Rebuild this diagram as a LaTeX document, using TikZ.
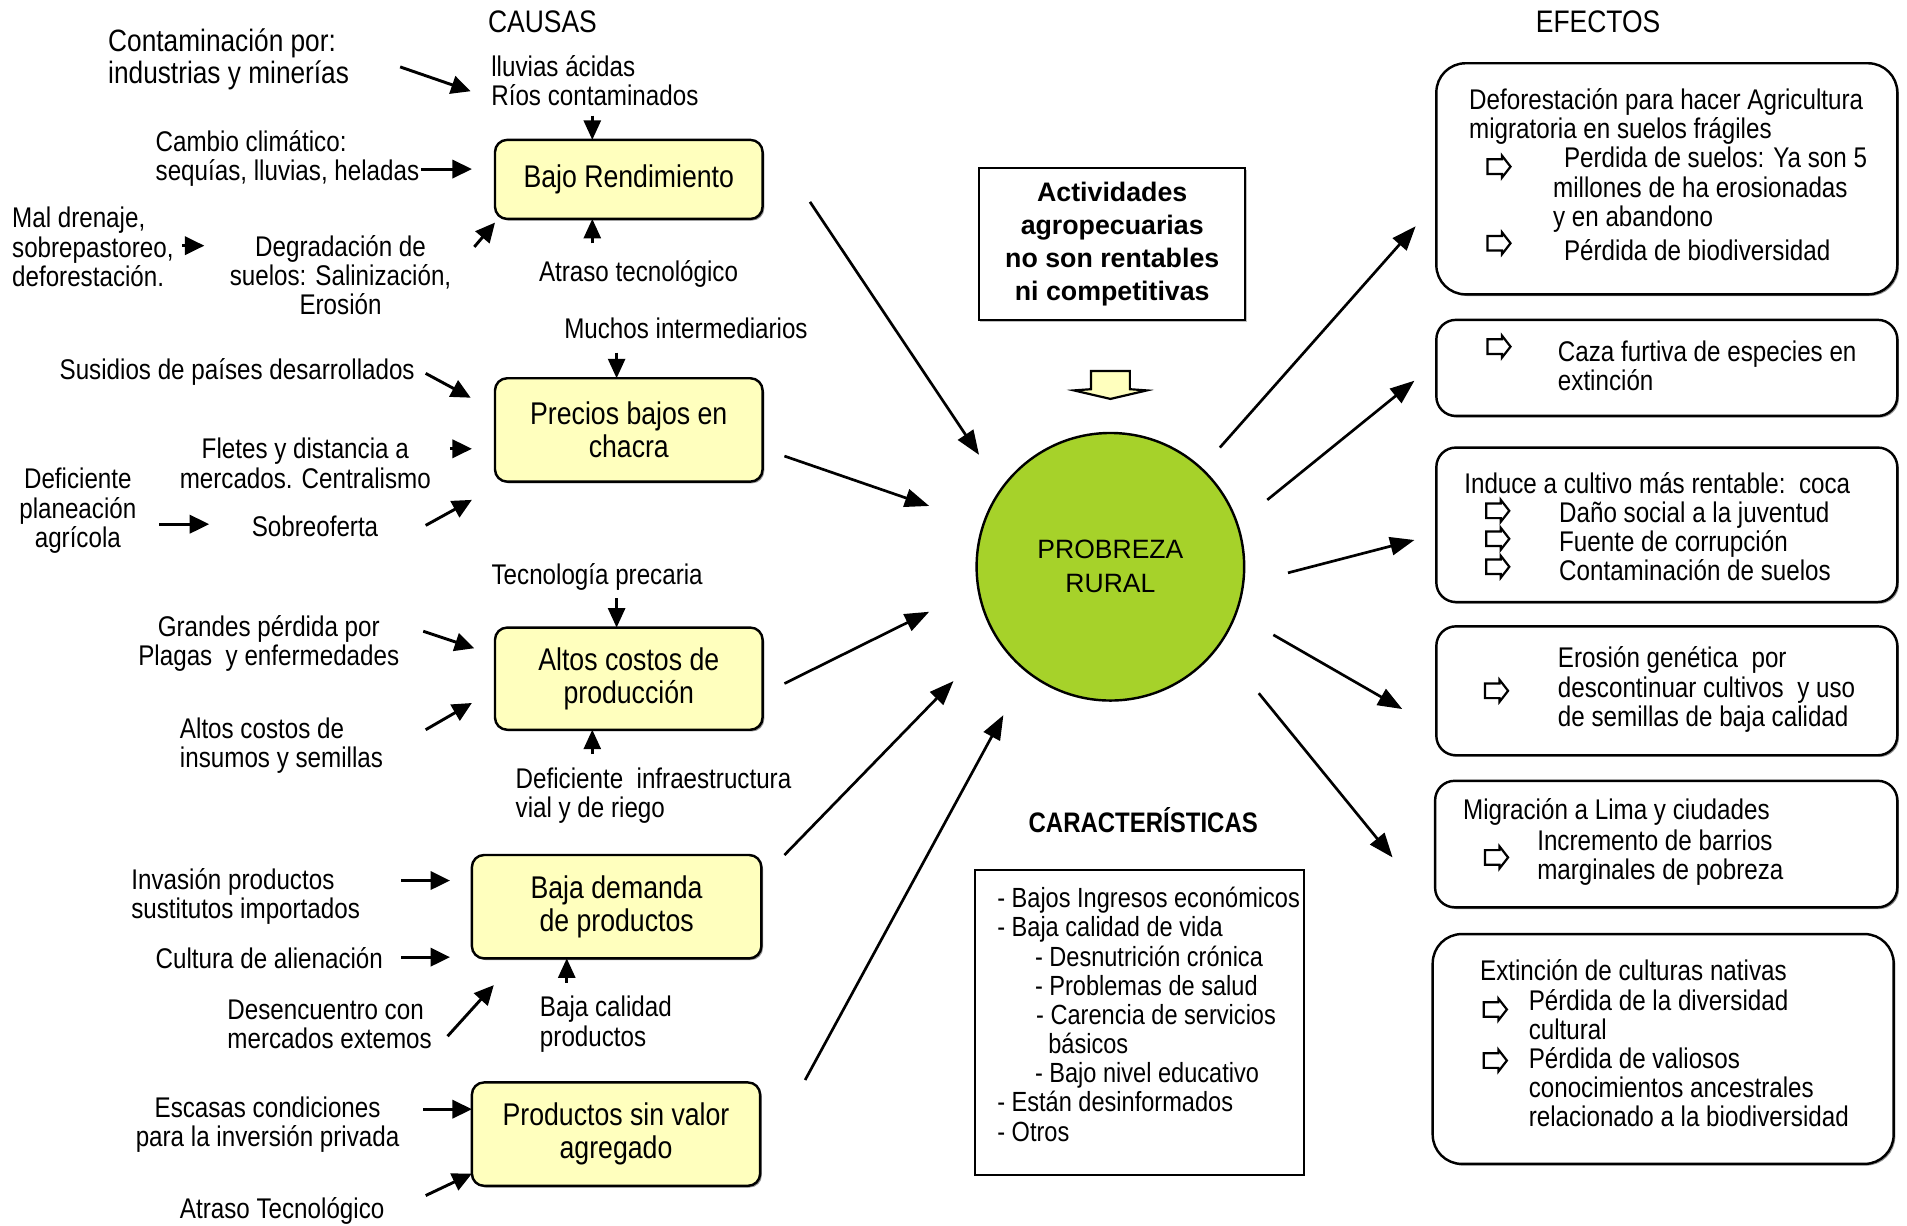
\documentclass[tikz,border=0pt]{standalone}
\usepackage{fontspec}
\setmainfont{Liberation Sans}[FakeStretch=0.85]
\newfontfamily\widefont{Liberation Sans}
\usetikzlibrary{arrows.meta,shadows}

\definecolor{boxyellow}{RGB}{255,255,190}
\definecolor{limegreen}{RGB}{166,210,42}

\begin{document}
\begin{tikzpicture}[x=0.5pt,y=-0.5pt,
  every node/.style={inner sep=0pt, outer sep=0pt},
  lbl/.style={font=\fontsize{11.7}{12}\selectfont},
  lblL/.style={lbl, align=left, anchor=west},
  lblC/.style={lbl, align=center},
  headtxt/.style={font=\fontsize{12.8}{13}\selectfont},
  softshadow/.style={drop shadow={shadow xshift=0.7pt, shadow yshift=-0.7pt, fill=black!70, opacity=0.6}},
  cbox/.style={draw, line width=1pt, rounded corners=5pt, fill=boxyellow, align=center,
    font=\fontsize{12.9}{13.5}\selectfont, softshadow},
  ebox/.style={draw, line width=1pt, rounded corners=#1, fill=white, softshadow},
  ebox/.default=8pt,
  sarr/.style={line width=1.2pt, -{Triangle[length=8pt,width=7.5pt]}},
  varr/.style={line width=1.1pt, -{Triangle[length=8pt,width=7pt]}},
  barr/.style={line width=1.1pt, -{Triangle[length=10pt,width=7.5pt]}},
  hicon/.pic={\draw[line width=0.9pt, line join=miter, fill=white]
    (-9,-6) -- (3,-6) -- (3,-9) -- (10,0) -- (3,9) -- (3,6) -- (-9,6) -- cycle;}
]
\useasboundingbox[fill=white] (0,0) rectangle (1568,1008);

% ---------- headings ----------
\node[headtxt] (causas) at (446,18) {CAUSAS};
\node[headtxt] (efectos) at (1314,18) {EFECTOS};

% ---------- cause boxes ----------
\node[cbox, minimum width=110pt, minimum height=32.5pt] (br) at (517,147.5) {Bajo Rendimiento};
\node[cbox, minimum width=110pt, minimum height=42.5pt] (pb) at (517,353.5) {Precios bajos en\\chacra};
\node[cbox, minimum width=110pt, minimum height=42pt] (ac) at (517,558) {Altos costos de\\producción};
\node[cbox, minimum width=119pt, minimum height=42.5pt] (bd) at (507,745.5) {Baja demanda\\de productos};
\node[cbox, minimum width=118.5pt, minimum height=42.5pt] (psv) at (506.5,932.5) {Productos sin valor\\agregado};

% ---------- labels around "Bajo Rendimiento" ----------
\node[lblL, font=\fontsize{12.7}{13}\selectfont] (cont) at (89,49) {Contaminación por:\\industrias y minerías};
\node[lblL] (lluv) at (404,66) {lluvias ácidas\\Ríos contaminados};
\node[lblL] (clim) at (128,130) {Cambio climático:\\sequías, lluvias, heladas};
\node[lblL] (mal) at (10,203) {Mal drenaje,\\sobrepastoreo,\\deforestación.};
\node[lblC] (degr) at (280,226) {Degradación de\\suelos: Salinización,\\Erosión};
\node[lbl] (atr1) at (525,225) {Atraso tecnológico};

% ---------- labels around "Precios bajos" ----------
\node[lbl] (much) at (564,270) {Muchos intermediarios};
\node[lbl] (subs) at (195,306) {Susidios de países desarrollados};
\node[lblC] (flet) at (251,381) {Fletes y distancia a\\mercados. Centralismo};
\node[lblC] (plan) at (64,420) {Deficiente\\planeación\\agrícola};
\node[lbl] (sobr) at (259,433) {Sobreoferta};

% ---------- labels around "Altos costos" ----------
\node[lbl] (tecn) at (491,474) {Tecnología precaria};
\node[lblC] (gran) at (221,529) {Grandes pérdida por\\Plagas\ \ y enfermedades};
\node[lblL] (insu) at (148,613) {Altos costos de\\insumos y semillas};
\node[lblL] (infr) at (424,654) {Deficiente\ \ infraestructura\\vial y de riego};

% ---------- labels around "Baja demanda" ----------
\node[lblL] (inva) at (108,737) {Invasión productos\\sustitutos importados};
\node[lblL] (cult) at (128,788) {Cultura de alienación};
\node[lblL] (desen) at (187,842) {Desencuentro con\\mercados extemos};
\node[lblL] (bcal) at (444,842) {Baja calidad\\productos};

% ---------- labels around "Productos sin valor" ----------
\node[lblC] (esca) at (220,925) {Escasas condiciones\\para la inversión privada};
\node[lbl] (atr2) at (232,996) {Atraso Tecnológico};

% ---------- small arrows on the cause side ----------
\coordinate (s1a) at (329,55);  \coordinate (s1b) at (387,75);
\coordinate (s2a) at (346,139); \coordinate (s2b) at (388,139);
\coordinate (s3a) at (150,202); \coordinate (s3b) at (168,202);
\coordinate (s4a) at (390,203); \coordinate (s4b) at (407,183);
\coordinate (s8a) at (350,307); \coordinate (s8b) at (387,327);
\coordinate (s9a) at (370,369); \coordinate (s9b) at (388,369);
\coordinate (s10a) at (131,431); \coordinate (s10b) at (172,431);
\coordinate (s11a) at (350,432); \coordinate (s11b) at (388,411);
\coordinate (s13a) at (348,519); \coordinate (s13b) at (390,533);
\coordinate (s14a) at (350,600); \coordinate (s14b) at (388,578);
\coordinate (s16a) at (330,724); \coordinate (s16b) at (370,724);
\coordinate (s17a) at (330,787); \coordinate (s17b) at (370,787);
\coordinate (s18a) at (368,852); \coordinate (s18b) at (406,810);
\coordinate (s20a) at (348,912); \coordinate (s20b) at (388,912);
\coordinate (s21a) at (350,983); \coordinate (s21b) at (388,965);
\foreach \k in {1,2,3,4,8,9,10,11,13,14,16,17,18,20,21}
  \draw[sarr] (s\k a) -- (s\k b);

% vertical arrows into the boxes
\coordinate (v1) at (487,95);
\coordinate (v2) at (487,200);
\coordinate (v3) at (507,290);
\coordinate (v4) at (507,492);
\coordinate (v5) at (487,620);
\coordinate (v6) at (466,808);
\draw[varr] (v1) -- (v1 |- br.north);
\draw[varr] (v2) -- (v2 |- br.south);
\draw[varr] (v3) -- (v3 |- pb.north);
\draw[varr] (v4) -- (v4 |- ac.north);
\draw[varr] (v5) -- (v5 |- ac.south);
\draw[varr] (v6) -- (v6 |- bd.south);

% ---------- centre ----------
\node[draw, line width=0.9pt, fill=white, minimum width=109.5pt, minimum height=62.5pt, align=center,
      font=\widefont\bfseries\fontsize{11}{13.5}\selectfont,
      drop shadow={shadow xshift=0.5pt, shadow yshift=-0.8pt, fill=black!50, opacity=0.5}]
  (activ) at (914.5,200.5) {Actividades\\agropecuarias\\no son rentables\\ni competitivas};

\coordinate (blk) at (913,305);
\draw[line width=0.9pt, fill=boxyellow, line join=miter]
  (blk) ++(-16,0) -- ++(32,0) -- ++(0,15) -- ++(14,1) -- (913,328) -- (883,321) -- (897,320) -- cycle;

\node[circle, draw, line width=1pt, fill=limegreen, minimum size=110pt, align=center,
      font=\widefont\fontsize{10.9}{14}\selectfont] (pobre) at (913,466) {PROBREZA\\RURAL};

\node[font=\bfseries\fontsize{11.6}{13}\selectfont] (carT) at (940,674) {CARACTERÍSTICAS};
\node[draw, line width=0.9pt, minimum width=135pt, minimum height=125.5pt] (carB) at (937,840.5) {};
\node[lblL, font=\fontsize{11.4}{12}\selectfont] (carL) at (820,834) {- Bajos Ingresos económicos\\
- Baja calidad de vida\\
\hspace*{15.5pt}- Desnutrición crónica\\
\hspace*{15.5pt}- Problemas de salud\\
\hspace*{16pt}- Carencia de servicios\\
\hspace*{21pt}básicos\\
\hspace*{15.5pt}- Bajo nivel educativo\\
- Están desinformados\\
- Otros};

% big arrows from causes to the centre
\coordinate (c1a) at (666,166); \coordinate (c1b) at (805,374);
\coordinate (c2a) at (645,375); \coordinate (c2b) at (764,416);
\coordinate (c3a) at (645,562); \coordinate (c3b) at (764,503);
\coordinate (c4a) at (645,703); \coordinate (c4b) at (784,560);
\coordinate (c5a) at (662,888); \coordinate (c5b) at (825,588);
% big arrows from the centre to the effects
\coordinate (f1a) at (1003,368); \coordinate (f1b) at (1164,186);
\coordinate (f2a) at (1042,411); \coordinate (f2b) at (1163,313);
\coordinate (f3a) at (1059,471); \coordinate (f3b) at (1163,444);
\coordinate (f4a) at (1047,522); \coordinate (f4b) at (1153,583);
\coordinate (f5a) at (1035,570); \coordinate (f5b) at (1145,705);
\foreach \k in {1,...,5} {
  \draw[barr] (c\k a) -- (c\k b);
  \draw[barr] (f\k a) -- (f\k b);
}

% ---------- effect boxes ----------
\node[ebox=12pt, minimum width=189.5pt, minimum height=95pt] (e1) at (1370.5,147) {};
\node[ebox, minimum width=189.5pt, minimum height=39.5pt] (e2) at (1370.5,302.5) {};
\node[ebox, minimum width=189.5pt, minimum height=63.5pt] (e3) at (1370.5,431.5) {};
\node[ebox, minimum width=189.5pt, minimum height=53pt] (e4) at (1370.5,568) {};
\node[ebox, minimum width=190pt, minimum height=52pt] (e5) at (1370,694) {};
\node[ebox=12pt, minimum width=189.5pt, minimum height=94.5pt] (e6) at (1367.5,862.5) {};

\node[lblL] (e1a) at (1208,96) {Deforestación para hacer Agricultura\\migratoria en suelos frágiles};
\pic at (1232,137) {hicon};
\node[lblL] (e1b) at (1277,156) {\hspace*{4.5pt}Perdida de suelos: Ya son 5\\millones de ha erosionadas\\y en abandono};
\pic at (1232,200) {hicon};
\node[lblL] (e1c) at (1286,206) {Pérdida de biodiversidad};

\pic at (1232,285) {hicon};
\node[lblL] (e2a) at (1281,301) {Caza furtiva de especies en\\extinción};

\node[lblL] (e3a) at (1204,397) {Induce a cultivo más rentable:\ \ coca};
\pic at (1231,420) {hicon};
\pic at (1231,443) {hicon};
\pic at (1231,466) {hicon};
\node[lblL] (e3b) at (1282,445) {Daño social a la juventud\\Fuente de corrupción\\Contaminación de suelos};

\pic at (1230,568) {hicon};
\node[lblL] (e4a) at (1281,567) {Erosión genética\ \ por\\descontinuar cultivos\ \ y uso\\de semillas de baja calidad};

\node[lblL] (e5a) at (1203,668) {Migración a Lima y ciudades};
\pic at (1230,705) {hicon};
\node[lblL] (e5b) at (1264,705) {Incremento de barrios\\marginales de pobreza};

\node[lblL] (e6a) at (1217,798) {Extinción de culturas nativas};
\pic at (1229,830) {hicon};
\node[lblL] (e6b) at (1257,834) {Pérdida de la diversidad\\cultural};
\pic at (1229,872) {hicon};
\node[lblL] (e6c) at (1257,894) {Pérdida de valiosos\\conocimientos ancestrales\\relacionado a la biodiversidad};

\end{tikzpicture}
\end{document}
